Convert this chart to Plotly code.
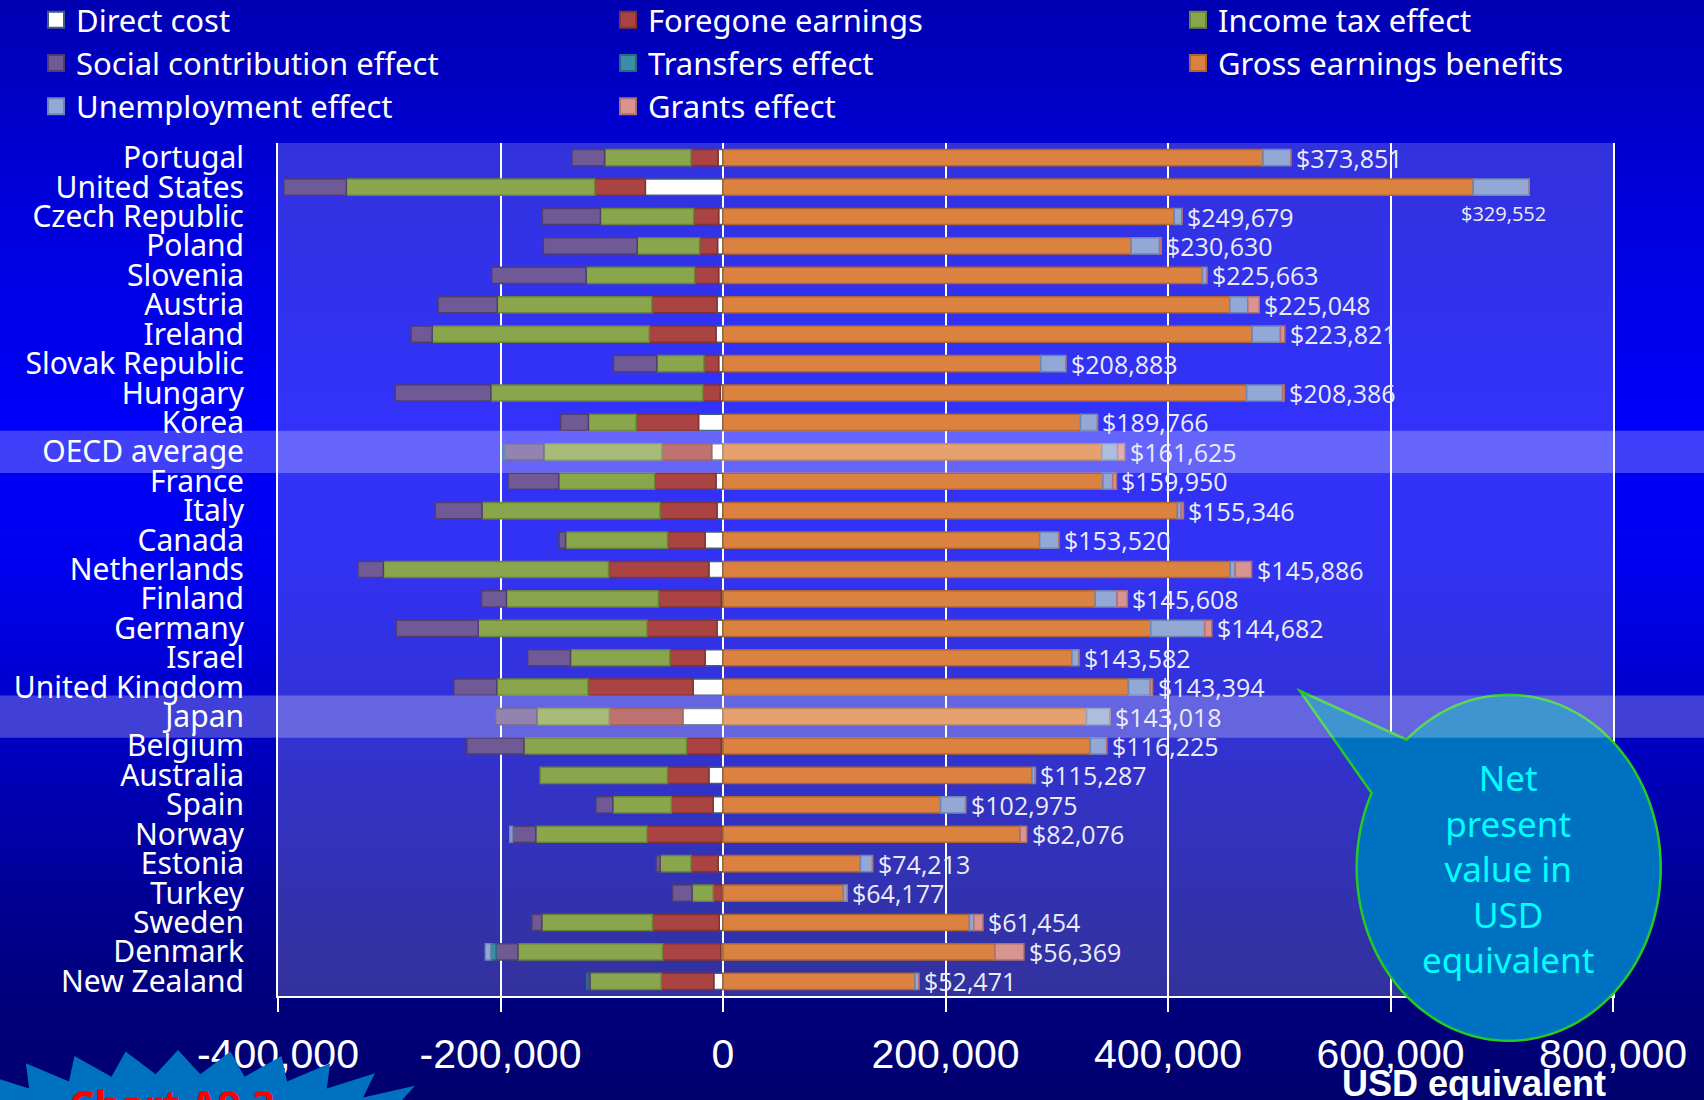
import base64
import struct
import zlib

import numpy as np
import plotly.graph_objects as go

# ---------------- data (USD, net present value components) ----------------
countries = ["Portugal", "United States", "Czech Republic", "Poland", "Slovenia", "Austria",
             "Ireland", "Slovak Republic", "Hungary", "Korea", "OECD average", "France", "Italy",
             "Canada", "Netherlands", "Finland", "Germany", "Israel", "United Kingdom", "Japan",
             "Belgium", "Australia", "Spain", "Norway", "Estonia", "Turkey", "Sweden", "Denmark",
             "New Zealand"]

direct_cost = [-4400, -69800, -3900, -4900, -3900, -5400, -6300, -3900, -2400, -22000, -10200,
               -6300, -5400, -16100, -12700, -1500, -5400, -16100, -26800, -36100, -1500, -12700,
               -8800, -500, -4400, -500, -3400, -2000, -8300]
foregone_earnings = [-24400, -45400, -22400, -16100, -21500, -58500, -60000, -13200, -15600,
                     -56100, -44900, -55100, -51200, -33700, -90200, -56600, -62900, -31700,
                     -94600, -66300, -31200, -37100, -37600, -67800, -24400, -8300, -60000,
                     -52200, -47300]
income_tax_effect = [-77600, -223400, -83900, -56100, -97600, -139000, -195100, -42400, -190700,
                     -42900, -105900, -86300, -160000, -91700, -202400, -136600, -151700, -89300,
                     -82000, -64900, -146300, -114600, -52700, -100000, -27800, -19000, -99500,
                     -130200, -63900]
social_contribution_effect = [-29300, -56100, -52200, -84400, -84900, -53200, -19000, -39000,
                              -85900, -24900, -35600, -45400, -42000, -5900, -22900, -22400,
                              -73700, -38500, -38500, -37100, -51200, 0, -15100, -21000, -3400,
                              -17600, -8800, -19500, -2000]
transfers_effect = [0, 0, 0, 0, 0, 0, 0, 0, 0, 0, -1000, 0, 0, 0, 0, 0, 0, 0, 0, 0, 0, 0, 0, 0,
                    0, 0, 0, -4900, -1000]
gross_earnings_benefits = [485400, 674300, 405600, 366900, 431000, 455500, 475600, 285700,
                           470700, 321400, 340500, 341500, 408500, 284700, 456000, 334600,
                           384500, 313600, 364500, 326800, 330200, 277800, 195600, 267100,
                           123600, 108300, 221500, 244500, 172600]
unemployment_effect = [25000, 50400, 6900, 25500, 3900, 16200, 25500, 22500, 32300, 15200, 14200,
                       8800, 3400, 17100, 4400, 19600, 48500, 6300, 19600, 21000, 14700, 3000,
                       22500, -2400, 10800, 3400, 3900, -4900, 3400]
grants_effect = [0, 0, 0, 1500, 0, 10300, 3900, 0, 1500, 0, 6400, 3400, 2000, 0, 14700, 9300,
                 6400, 0, 2000, 0, 0, 0, 0, 5900, 0, 0, 8300, 26000, 0]
net_present_value = [373851, 329552, 249679, 230630, 225663, 225048, 223821, 208883, 208386,
                     189766, 161625, 159950, 155346, 153520, 145886, 145608, 144682, 143582,
                     143394, 143018, 116225, 115287, 102975, 82076, 74213, 64177, 61454, 56369,
                     52471]
highlighted = ["OECD average", "Japan"]

x_tick_vals = [-400000, -200000, 0, 200000, 400000, 600000, 800000]
x_tick_text = ["-400,000", "-200,000", "0", "200,000", "400,000", "600,000", "800,000"]

# ---------------- style ----------------
W, H = 1704, 1100
ML, MR, MT, MB = 278, 91, 143, 104
PW, PH = W - ML - MR, H - MT - MB

COMIC = "Comic Sans MS, Noto Sans, sans-serif"

series = [
    ("Direct cost", direct_cost, "#ffffff", "#3f6080", "legend"),
    ("Foregone earnings", foregone_earnings, "#a94442", "#833331", "legend2"),
    ("Income tax effect", income_tax_effect, "#8aa64c", "#6b8537", "legend3"),
    ("Social contribution effect", social_contribution_effect, "#6f5a96", "#4e3f70", "legend"),
    ("Transfers effect", transfers_effect, "#3a8ea8", "#2a6a80", "legend2"),
    ("Gross earnings benefits", gross_earnings_benefits, "#dc8240", "#b0652e", "legend3"),
    ("Unemployment effect", unemployment_effect, "#93a8d4", "#6f86b4", "legend"),
    ("Grants effect", grants_effect, "#d79491", "#b07070", "legend2"),
]


def px2paper(px, py):
    return (px - ML) / PW, (H - MB - py) / PH


def gradient_png():
    stops_y = [0, 130, 420, 560, 700, 820, 920, 1000, 1100]
    stops_b = [178, 208, 250, 240, 205, 170, 142, 124, 110]
    rows = []
    for yy in range(0, H, 5):
        b = int(round(np.interp(yy, stops_y, stops_b)))
        rows.append((0, 0, b))
    raw = b"".join(b"\x00" + bytes(c) for c in rows)

    def chunk(t, d):
        return struct.pack(">I", len(d)) + t + d + struct.pack(">I", zlib.crc32(t + d) & 0xffffffff)

    png = (b"\x89PNG\r\n\x1a\n"
           + chunk(b"IHDR", struct.pack(">IIBBBBB", 1, len(rows), 8, 2, 0, 0, 0))
           + chunk(b"IDAT", zlib.compress(raw))
           + chunk(b"IEND", b""))
    return "data:image/png;base64," + base64.b64encode(png).decode()


fig = go.Figure()

for name, vals, fill, line, _ in series:
    fig.add_trace(go.Bar(
        y=countries, x=vals, orientation="h", name=name, showlegend=False,
        marker=dict(color=fill, line=dict(color=line, width=1.5)),
        hoverinfo="x+name",
    ))

# legend entries (three columns)
for name, vals, fill, line, leg in series:
    fig.add_trace(go.Scatter(
        x=[None], y=[None], mode="markers", name=name, legend=leg, showlegend=True,
        marker=dict(symbol="square", size=16, color=fill, line=dict(color=line, width=2)),
    ))

# net value labels
pos_total = np.sum(np.clip(np.array([v for _, v, _, _, _ in series], dtype=float), 0, None), axis=0)
annotations = []
for i, c in enumerate(countries):
    txt = f"${net_present_value[i]:,}"
    if c == "United States":
        annotations.append(dict(x=pos_total[i], y=c, xref="x", yref="y", text=txt,
                                showarrow=False, xanchor="right", yanchor="middle",
                                xshift=19, yshift=-26,
                                font=dict(family="Open Sans, sans-serif", size=20, color="#ececf8")))
    else:
        annotations.append(dict(x=pos_total[i], y=c, xref="x", yref="y", text=txt,
                                showarrow=False, xanchor="left", yanchor="middle", xshift=3,
                                font=dict(family="Open Sans, sans-serif", size=25, color="#ececf8")))

# speech bubble text
bx, by = px2paper(1508, 868)
annotations.append(dict(x=bx, y=by, xref="paper", yref="paper",
                        text="Net<br>present<br>value in<br>USD<br>equivalent",
                        showarrow=False, xanchor="center", yanchor="middle", align="center",
                        font=dict(family=COMIC, size=35, color="#00ffff")))
# axis title
tx, ty = px2paper(1474, 1083)
annotations.append(dict(x=tx, y=ty, xref="paper", yref="paper", text="<b>USD equivalent</b>",
                        showarrow=False, xanchor="center", yanchor="middle",
                        font=dict(family="Liberation Sans, Arial, sans-serif", size=36,
                                  color="#ffffff")))
# chart tag in the starburst
cx_, cy_ = px2paper(172, 1074)
annotations.append(dict(x=cx_, y=cy_, xref="paper", yref="paper", text="<b>Chart A9.3</b>",
                        showarrow=False, xanchor="center", yanchor="top",
                        font=dict(family=COMIC, size=40, color="#ff0000")))

# ---------------- shapes ----------------
shapes = []
# plot area tint
shapes.append(dict(type="rect", xref="paper", yref="paper", x0=0, x1=1, y0=0, y1=1,
                   fillcolor="rgba(200,200,255,0.25)", line=dict(width=0), layer="below"))


def poly_path(pts):
    s = "M" + " L".join(f"{px2paper(x, y)[0]:.5f},{px2paper(x, y)[1]:.5f}" for x, y in pts)
    return s + " Z"


# speech bubble
ecx, ecy, erx, ery = 1508.7, 867.8, 152, 173
tip = (1300, 691)
t1, t2 = np.deg2rad(-132.2), np.deg2rad(205.6)
ts = np.linspace(t1, t2, 160)
pts = [tip] + [(ecx + erx * np.cos(t), ecy + ery * np.sin(t)) for t in ts]
shapes.append(dict(type="path", xref="paper", yref="paper", path=poly_path(pts),
                   fillcolor="#0070c0", line=dict(color="#22cc22", width=2.5), layer="above"))

# starburst
scx, scy = 178, 1172
n_sp = 40
star = []
for k in range(2 * n_sp):
    a = np.pi * k / n_sp
    rx, ry = (335, 122) if k % 2 == 0 else (285, 98)
    star.append((scx + rx * np.cos(a), scy + ry * np.sin(a)))
shapes.append(dict(type="path", xref="paper", yref="paper", path=poly_path(star),
                   fillcolor="#0070c0", line=dict(width=0), layer="above"))

# highlighted rows (full width translucent bands)
x_left = -ML / PW
x_right = (W - ML) / PW
for c in highlighted:
    idx = countries.index(c)
    shapes.append(dict(type="rect", xref="paper", yref="y", x0=x_left, x1=x_right,
                       y0=idx - 0.72, y1=idx + 0.72, fillcolor="rgba(255,255,255,0.25)",
                       line=dict(width=0), layer="above"))

legend_common = dict(bgcolor="rgba(0,0,0,0)", font=dict(family=COMIC, size=31, color="#ffffff"),
                     orientation="v", xanchor="left", yanchor="top", tracegroupgap=0,
                     itemsizing="trace", borderwidth=0)
ly = px2paper(0, -7)[1]

fig.update_layout(
    width=W, height=H,
    margin=dict(l=ML, r=MR, t=MT, b=MB, autoexpand=False),
    paper_bgcolor="#0000a0",
    plot_bgcolor="rgba(0,0,0,0)",
    barmode="relative",
    bargap=0.45,
    images=[dict(source=gradient_png(), xref="paper", yref="paper",
                 x=-ML / PW, y=(H - MB) / PH, sizex=W / PW, sizey=H / PH,
                 xanchor="left", yanchor="top", sizing="stretch", layer="below")],
    shapes=shapes,
    annotations=annotations,
    legend=dict(x=px2paper(36, 0)[0], y=ly, **legend_common),
    legend2=dict(x=px2paper(608, 0)[0], y=ly, **legend_common),
    legend3=dict(x=px2paper(1178, 0)[0], y=ly, **legend_common),
    xaxis=dict(range=[-400000, 800000], tickmode="array", tickvals=x_tick_vals,
               ticktext=x_tick_text,
               showgrid=True, gridcolor="#ffffff", gridwidth=1.5, zeroline=False,
               showline=True, linecolor="#ffffff", linewidth=2,
               ticks="outside", ticklen=14, tickwidth=2, tickcolor="#ffffff",
               ticklabelstandoff=7,
               tickfont=dict(family="Liberation Sans, Arial, sans-serif", size=41,
                             color="#ffffff")),
    yaxis=dict(type="category", categoryorder="array", categoryarray=countries,
               tickmode="array", tickvals=countries, ticktext=countries,
               range=[len(countries) - 0.5, -0.5], showgrid=False, zeroline=False,
               showline=True, mirror=True, linecolor="#ffffff", linewidth=2,
               ticks="", ticklabelstandoff=26,
               tickfont=dict(family=COMIC, size=30, color="#ffffff")),
    hovermode="closest",
)

fig.write_html("out.html", config={"displayModeBar": False},
               post_script="document.body.style.margin='0px';document.body.style.overflow='hidden';")
